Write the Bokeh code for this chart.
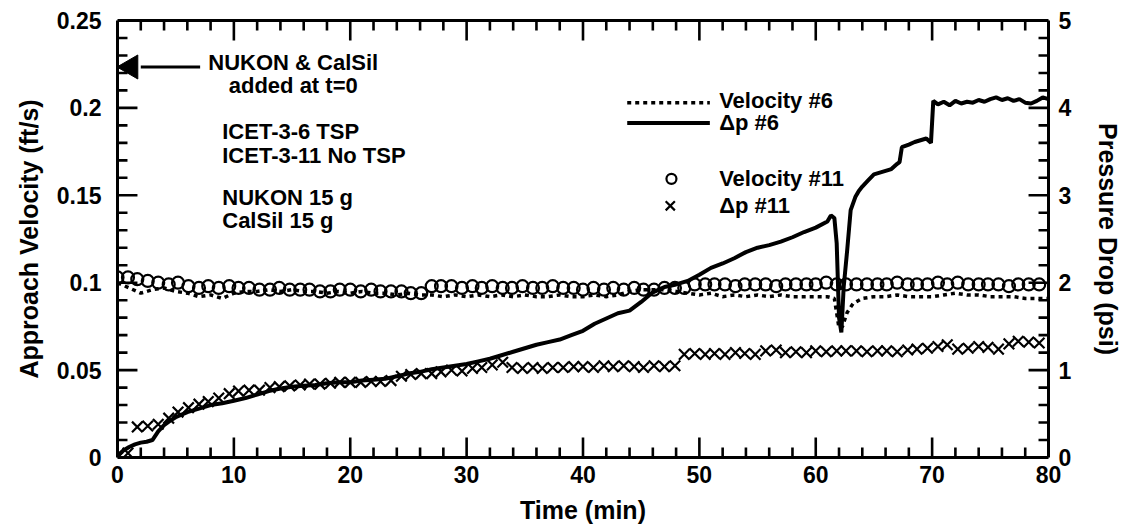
import math
from bokeh.plotting import figure
from bokeh.models import Range1d, LinearAxis, FixedTicker, CustomJSTickFormatter, ColumnDataSource
from bokeh.core.properties import value
from bokeh.embed import file_html
from bokeh.resources import INLINE

# ---------------- data ----------------
# Delta p #6 (psi, right axis) - solid line
T6 = [0, 0.5, 1, 1.5, 2, 2.5, 3, 3.5, 4, 4.5, 5, 6, 7, 8, 9, 10, 11, 12, 13, 14, 15, 16, 17, 18, 19,
      20, 21, 22, 23, 24, 25, 26, 27, 28, 29, 30, 31, 32, 33, 34, 35, 36, 37, 38, 39, 40, 41, 42, 43,
      44, 45, 46, 47, 48, 49, 50, 51, 52, 53, 54, 55, 56, 57, 58, 59, 60, 61, 61.3, 61.6, 61.8, 62.0,
      62.2, 62.4, 62.7, 63.0, 63.4, 63.7, 64, 64.5, 65, 65.5, 66, 66.5, 67, 67.2, 67.4, 68, 68.5, 69,
      69.5, 69.9, 70.1, 70.5, 71, 71.5, 72, 72.5, 73, 73.5, 74, 74.5, 75, 75.5, 76, 76.5, 77, 77.5,
      78, 78.5, 79, 79.5, 80]
DP6 = [0.02, 0.08, 0.12, 0.15, 0.17, 0.18, 0.20, 0.30, 0.37, 0.42, 0.46, 0.52, 0.56, 0.60, 0.62,
       0.65, 0.68, 0.72, 0.76, 0.79, 0.81, 0.82, 0.83, 0.85, 0.86, 0.86, 0.88, 0.89, 0.90, 0.93,
       0.96, 0.98, 1.01, 1.03, 1.05, 1.07, 1.10, 1.13, 1.17, 1.21, 1.25, 1.29, 1.32, 1.35, 1.40,
       1.45, 1.53, 1.59, 1.65, 1.68, 1.78, 1.89, 1.95, 1.98, 2.02, 2.09, 2.17, 2.22, 2.28, 2.35,
       2.40, 2.43, 2.47, 2.52, 2.58, 2.63, 2.70, 2.77, 2.74, 2.45, 1.60, 1.43, 1.95, 2.37, 2.83,
       2.98, 3.05, 3.10, 3.17, 3.24, 3.26, 3.28, 3.30, 3.36, 3.38, 3.55, 3.58, 3.61, 3.63, 3.65,
       3.60, 4.08, 4.04, 4.07, 4.03, 4.08, 4.05, 4.07, 4.06, 4.09, 4.07, 4.10, 4.12, 4.09, 4.11,
       4.08, 4.10, 4.06, 4.05, 4.08, 4.12, 4.10]

# Velocity #6 (ft/s, left axis) - dotted line
TV6 = [0, 1, 2, 3, 4, 5, 6, 7, 8, 9, 10, 11, 12, 13, 14, 15, 16, 17, 18, 19, 20, 21, 22, 23, 24,
       25, 26, 27, 28, 29, 30, 31, 32, 33, 34, 35, 36, 37, 38, 39, 40, 41, 42, 43, 44, 45, 46, 47,
       48, 49, 50, 51, 52, 53, 54, 55, 56, 57, 58, 59, 60, 61, 61.6, 62.0, 62.3, 62.7, 63.2, 64, 65,
       66, 67, 68, 69, 70, 71, 72, 73, 74, 75, 76, 77, 78, 79, 80]
V6 = [0.100, 0.097, 0.094, 0.096, 0.097, 0.095, 0.094, 0.092, 0.093, 0.091, 0.094, 0.095, 0.095,
      0.096, 0.095, 0.096, 0.095, 0.095, 0.094, 0.095, 0.094, 0.095, 0.094, 0.094, 0.093, 0.094,
      0.093, 0.093, 0.092, 0.093, 0.092, 0.093, 0.092, 0.093, 0.092, 0.093, 0.092, 0.092, 0.093,
      0.092, 0.092, 0.093, 0.092, 0.093, 0.095, 0.096, 0.096, 0.096, 0.095, 0.094, 0.093, 0.094,
      0.092, 0.093, 0.092, 0.093, 0.092, 0.093, 0.092, 0.092, 0.092, 0.092, 0.091, 0.074, 0.075,
      0.083, 0.088, 0.091, 0.092, 0.092, 0.093, 0.092, 0.092, 0.092, 0.093, 0.094, 0.093, 0.093,
      0.092, 0.092, 0.092, 0.091, 0.091, 0.091]

# Test 11 samples (markers)
T11 = [0, 0.9, 1.7, 2.6, 3.5, 4.4, 5.2, 6.1, 7.0, 7.8, 8.7, 9.6, 10.4, 11.3, 12.2, 13.1, 13.9,
       14.8, 15.7, 16.5, 17.4, 18.3, 19.1, 20.0, 20.9, 21.8, 22.6, 23.5, 24.4, 25.2, 26.1, 27.0,
       27.8, 28.7, 29.6, 30.5, 31.3, 32.2, 33.1, 33.9, 34.8, 35.7, 36.5, 37.4, 38.3, 39.2, 40.0,
       40.9, 41.8, 42.6, 43.5, 44.4, 45.2, 46.1, 47.0, 47.9, 48.7, 49.6, 50.5, 51.3, 52.2, 53.1,
       53.9, 54.8, 55.7, 56.6, 57.4, 58.3, 59.2, 60.0, 60.9, 61.8, 62.6, 63.5, 64.4, 65.3, 66.1,
       67.0, 67.9, 68.7, 69.6, 70.5, 71.3, 72.2, 73.1, 74.0, 74.8, 75.7, 76.6, 77.4, 78.3, 79.2]
V11 = [0.103, 0.103, 0.102, 0.101, 0.100, 0.099, 0.100, 0.098, 0.097, 0.098, 0.097, 0.098, 0.097,
       0.097, 0.096, 0.096, 0.097, 0.096, 0.096, 0.096, 0.095, 0.095, 0.096, 0.096, 0.095, 0.096,
       0.095, 0.095, 0.095, 0.094, 0.094, 0.098, 0.098, 0.098, 0.097, 0.098, 0.097, 0.098, 0.097,
       0.097, 0.098, 0.097, 0.097, 0.098, 0.097, 0.097, 0.096, 0.097, 0.096, 0.097, 0.096, 0.097,
       0.096, 0.096, 0.097, 0.097, 0.097, 0.099, 0.099, 0.099, 0.099, 0.098, 0.099, 0.099, 0.099,
       0.098, 0.099, 0.099, 0.099, 0.099, 0.100, 0.099, 0.099, 0.099, 0.099, 0.099, 0.099, 0.100,
       0.099, 0.099, 0.099, 0.100, 0.099, 0.100, 0.099, 0.099, 0.099, 0.099, 0.098, 0.099, 0.099,
       0.099]
DP11 = [0.00, 0.05, 0.35, 0.36, 0.38, 0.45, 0.52, 0.57, 0.61, 0.64, 0.68, 0.73, 0.76, 0.77, 0.77,
        0.80, 0.81, 0.82, 0.83, 0.84, 0.84, 0.85, 0.86, 0.86, 0.86, 0.87, 0.87, 0.88, 0.93, 0.95,
        0.96, 0.96, 0.98, 1.00, 0.99, 1.02, 1.03, 1.06, 1.09, 1.03, 1.02, 1.03, 1.02, 1.03, 1.03,
        1.04, 1.04, 1.03, 1.05, 1.04, 1.05, 1.04, 1.03, 1.05, 1.04, 1.05, 1.18, 1.19, 1.18, 1.19,
        1.18, 1.20, 1.19, 1.18, 1.22, 1.23, 1.20, 1.21, 1.20, 1.22, 1.21, 1.22, 1.22, 1.22, 1.21,
        1.22, 1.22, 1.21, 1.23, 1.24, 1.25, 1.27, 1.29, 1.24, 1.25, 1.27, 1.26, 1.24, 1.30, 1.33,
        1.32, 1.31]

X_TICKS = [0, 10, 20, 30, 40, 50, 60, 70, 80]
X_MINOR = [2, 4, 6, 8, 12, 14, 16, 18, 22, 24, 26, 28, 32, 34, 36, 38, 42, 44, 46, 48,
           52, 54, 56, 58, 62, 64, 66, 68, 72, 74, 76, 78]
Y_TICKS = [0, 0.05, 0.1, 0.15, 0.2, 0.25]
Y_MINOR = [0.01, 0.02, 0.03, 0.04, 0.06, 0.07, 0.08, 0.09, 0.11, 0.12, 0.13, 0.14,
           0.16, 0.17, 0.18, 0.19, 0.21, 0.22, 0.23, 0.24]
P_TICKS = [0, 1, 2, 3, 4, 5]
P_MINOR = [0.2, 0.4, 0.6, 0.8, 1.2, 1.4, 1.6, 1.8, 2.2, 2.4, 2.6, 2.8, 3.2, 3.4, 3.6, 3.8,
           4.2, 4.4, 4.6, 4.8]

NOTE_TEXT = ["ICET-3-6 TSP", "ICET-3-11 No TSP", "NUKON 15 g", "CalSil 15 g"]
ARROW_TEXT = ["NUKON & CalSil", "added at t=0"]
LEGEND_TEXT = ["Velocity #6", "\u0394p #6", "Velocity #11", "\u0394p #11"]

FONT = "Liberation Sans"

# ---------------- figure ----------------
X0, X1, Y0, Y1, P1 = 0, 80, 0, 0.25, 5
W, H = 1125, 531
ML, MR, MT, MB = 117, 75, 20, 74
p = figure(width=W, height=H, output_backend="svg", toolbar_location=None,
           x_range=Range1d(X0, X1), y_range=Range1d(Y0, Y1),
           min_border_left=ML, min_border_right=MR, min_border_top=MT, min_border_bottom=MB)
p.extra_y_ranges = {"p": Range1d(0, P1)}
p.xgrid.visible = False
p.ygrid.visible = False
p.outline_line_color = None

# pixel -> data conversion for tick lengths
px_x = (X1 - X0) / (W - ML - MR)
px_y = (Y1 - Y0) / (H - MT - MB)
px_p = P1 / (H - MT - MB)
MAJ, MIN, TW = 20, 10, 2.6


def style_axis(ax):
    ax.axis_line_width = 3
    ax.axis_line_color = "black"
    ax.major_tick_in = 0
    ax.major_tick_out = 0
    ax.minor_tick_in = 0
    ax.minor_tick_out = 0
    ax.major_label_text_font = FONT
    ax.major_label_text_font_style = "bold"
    ax.major_label_text_font_size = "23px"
    ax.major_label_text_color = "black"
    ax.axis_label_text_font = FONT
    ax.axis_label_text_font_style = "bold"
    ax.axis_label_text_font_size = "25px"
    ax.axis_label_text_color = "black"


fmt = CustomJSTickFormatter(code="return String(Math.round(tick*1000)/1000);")

xa = p.xaxis[0]
xa.ticker = FixedTicker(ticks=X_TICKS)
xa.formatter = fmt
xa.axis_label = "Time (min)"
style_axis(xa)
xa.major_label_standoff = 8
xa.axis_label_standoff = 10

ya = p.yaxis[0]
ya.ticker = FixedTicker(ticks=Y_TICKS)
ya.formatter = fmt
ya.axis_label = "Approach Velocity (ft/s)"
style_axis(ya)
ya.major_label_standoff = 16
ya.axis_label_standoff = 11

ra = LinearAxis(y_range_name="p", axis_label="Pressure Drop (psi)",
                ticker=FixedTicker(ticks=P_TICKS), formatter=fmt)
style_axis(ra)
ra.major_label_standoff = 10
ra.axis_label_standoff = 20
p.add_layout(ra, "right")

# top frame edge: an axis with a line only
ta = LinearAxis(ticker=FixedTicker(ticks=[]))
style_axis(ta)
ta.major_label_standoff = 0
p.add_layout(ta, "above")

# ---------------- data marks ----------------
src6 = ColumnDataSource(dict(t=T6, dp=DP6))
srcv6 = ColumnDataSource(dict(t=TV6, v=V6))
src11 = ColumnDataSource(dict(t=T11, v=V11, dp=DP11))

p.line("t", "v", source=srcv6, line_color="black", line_width=3.5, line_dash="4 4")
p.line("t", "dp", source=src6, y_range_name="p", line_color="black", line_width=4)
p.scatter("t", "v", source=src11, marker="circle", size=12, line_width=2.2,
          line_color="black", fill_color=None)
p.scatter("t", "dp", source=src11, y_range_name="p", marker="x", size=15, line_width=2.2,
          line_color="black")

# ---------------- inward tick marks (one short line per tick, from the tick lists) ----------
def tick_line(xs, ys, **kw):
    p.line(x=xs, y=ys, line_color="black", line_width=TW, line_cap="butt", **kw)


for t in X_TICKS:
    tick_line([t, t], [Y0, Y0 + MAJ * px_y])
    tick_line([t, t], [Y1, Y1 - MAJ * px_y])
for t in X_MINOR:
    tick_line([t, t], [Y0, Y0 + MIN * px_y])
    tick_line([t, t], [Y1, Y1 - MIN * px_y])
for v in Y_TICKS:
    tick_line([X0, X0 + MAJ * px_x], [v, v])
for v in Y_MINOR:
    tick_line([X0, X0 + MIN * px_x], [v, v])
for v in P_TICKS:
    tick_line([X1, X1 - MAJ * px_x], [v, v], y_range_name="p")
for v in P_MINOR:
    tick_line([X1, X1 - MIN * px_x], [v, v], y_range_name="p")

# ---------------- annotations ----------------
# arrow "added at t=0": shaft + triangular head
ARROW_Y = 0.2234
p.line(x=[2.0, 7.1], y=[ARROW_Y, ARROW_Y], line_color="black", line_width=3)
p.scatter(x=[1.15], y=[ARROW_Y], marker="triangle", angle=math.pi / 2, size=24,
          fill_color="black", line_color="black", line_width=1)

txt_kw = dict(text_font=value(FONT), text_font_style="bold", text_font_size="22px",
              text_color="black", text_baseline="middle")

p.text(x=[15.1, 15.1], y=[0.2257, 0.2131], text=ARROW_TEXT, text_align="center", **txt_kw)
p.text(x=[9.0, 9.0, 9.0, 9.0], y=[0.1863, 0.1726, 0.1486, 0.1354], text=NOTE_TEXT,
       text_align="left", **txt_kw)

# legend
p.line(x=[43.8, 50.9], y=[0.2029, 0.2029], line_color="black", line_width=3.5, line_dash="4 4")
p.line(x=[43.8, 50.9], y=[0.1914, 0.1914], line_color="black", line_width=4)
p.scatter(x=[47.6], y=[0.1594], marker="circle", size=10, line_width=2.2, line_color="black",
          fill_color=None)
p.scatter(x=[47.5], y=[0.144], marker="x", size=13, line_width=2.2, line_color="black")
p.text(x=[51.7, 51.7, 51.7, 51.7], y=[0.2045, 0.1914, 0.1594, 0.144], text=LEGEND_TEXT,
       text_align="left", **txt_kw)

open("out.html", "w").write(file_html(p, INLINE))
